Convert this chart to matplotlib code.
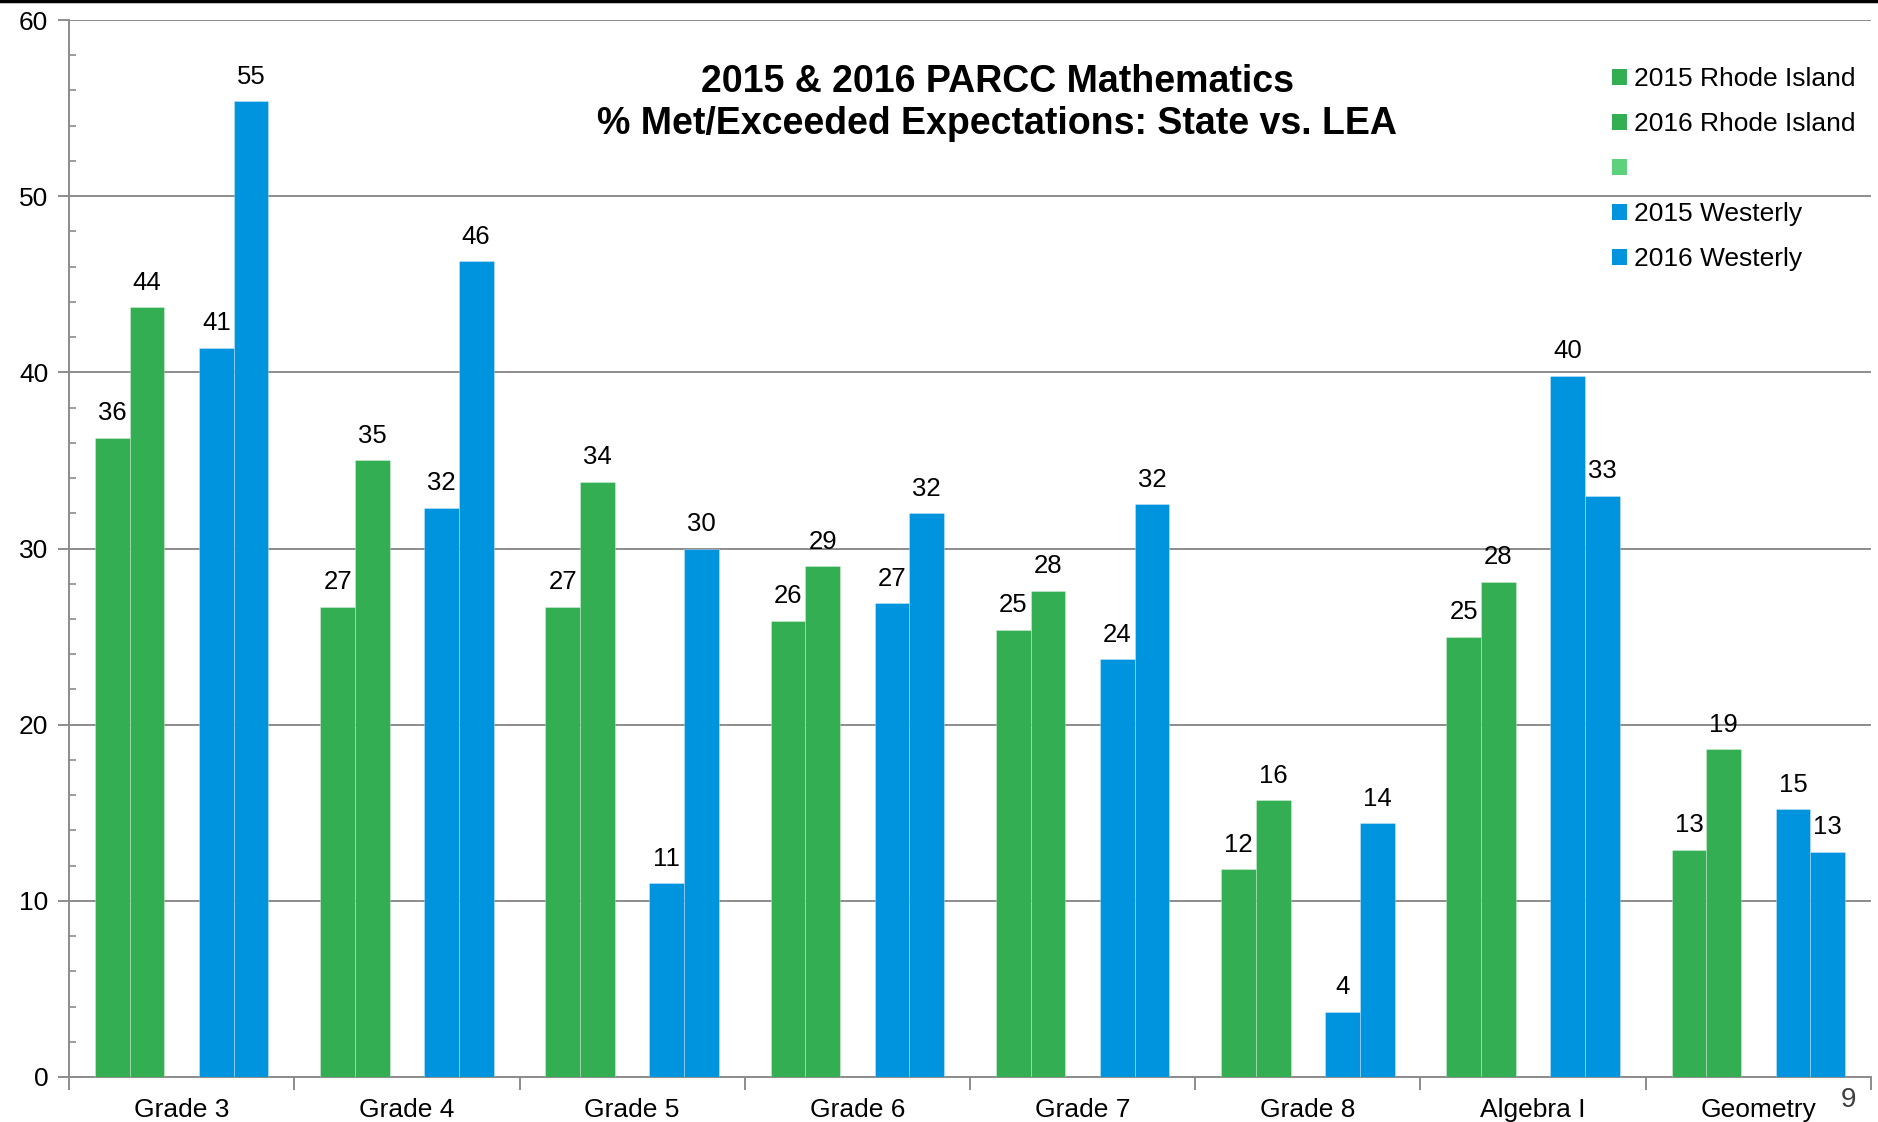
import matplotlib
matplotlib.use("Agg")
import matplotlib.pyplot as plt
import numpy as np
from matplotlib.patches import Patch

plt.rcParams['font.family'] = ['Liberation Sans', 'DejaVu Sans']

categories = ["Grade 3", "Grade 4", "Grade 5", "Grade 6", "Grade 7", "Grade 8", "Algebra I", "Geometry"]
ri_2015 = [36.3, 26.7, 26.7, 25.9, 25.4, 11.8, 25.0, 12.9]
ri_2016 = [43.7, 35.0, 33.8, 29.0, 27.6, 15.7, 28.1, 18.6]
blank_series = [np.nan] * 8
w_2015 = [41.4, 32.3, 11.0, 26.9, 23.7, 3.7, 39.8, 15.2]
w_2016 = [55.4, 46.3, 30.0, 32.0, 32.5, 14.4, 33.0, 12.8]
series_labels = ["2015 Rhode Island", "2016 Rhode Island", "", "2015 Westerly", "2016 Westerly"]
yticks = [0, 10, 20, 30, 40, 50, 60]

green = "#33AE52"
blue = "#0094DF"
light_green = "#5DD17B"
colors = [green, green, light_green, blue, blue]
series = [ri_2015, ri_2016, blank_series, w_2015, w_2016]

W, H = 1878, 1122
fig = plt.figure(figsize=(W / 100, H / 100), dpi=100)
ax = fig.add_axes([69 / W, 1 - 1077 / H, (1871 - 69) / W, (1077 - 20) / H])

n = len(categories)
x = np.arange(n)
bw = 1 / 6.5
for k, (vals, col) in enumerate(zip(series, colors)):
    off = (k - 2) * bw
    ax.bar(x + off, vals, width=bw, color=col, edgecolor=(1, 1, 1, 0.35), linewidth=0.6, zorder=3)
    for xi, v in zip(x + off, vals):
        if np.isnan(v):
            continue
        ax.annotate(f"{v:.0f}", (xi, v), xytext=(0, 9), textcoords="offset points",
                    ha="center", va="bottom", fontsize=18.5, color="black")

ax.set_xlim(-0.5, n - 0.5)
ax.set_ylim(0, 60)
ax.set_yticks(yticks)
ax.set_yticklabels([str(t) for t in yticks])
ax.set_yticks(np.arange(0, 61, 2), minor=True)
ax.yaxis.grid(True, which="major", color="#8C8C8C", linewidth=1.4, zorder=0)
ax.set_axisbelow(True)

ax.set_xticks(x)
ax.set_xticklabels(categories)
ax.set_xticks(np.arange(-0.5, n, 1.0), minor=True)

ax.tick_params(axis="x", which="major", length=0, pad=15, labelsize=19)
ax.tick_params(axis="x", which="minor", length=9, width=1.4, color="#8C8C8C", direction="out")
ax.tick_params(axis="y", which="major", length=8, width=1.4, color="#8C8C8C", direction="out", pad=7, labelsize=19)
ax.tick_params(axis="y", which="minor", length=5, width=1.2, color="#8C8C8C", direction="in")

for s in ["top", "right"]:
    ax.spines[s].set_visible(False)
for s in ["left", "bottom"]:
    ax.spines[s].set_color("#8C8C8C")
    ax.spines[s].set_linewidth(1.4)

# title
fig.text(997 / W, 1 - 103 / H, "2015 & 2016 PARCC Mathematics\n% Met/Exceeded Expectations: State vs. LEA",
         ha="center", va="center", fontsize=27, fontweight="bold", linespacing=1.2)

# legend
handles = [Patch(facecolor=c, edgecolor="none") for c in colors]
fig.legend(handles, series_labels, loc="upper left", bbox_to_anchor=(1612 / W, 1 - 67 / H),
           frameon=False, fontsize=19, handlelength=0.55, handleheight=0.55, handletextpad=0.3,
           labelspacing=0.8, borderaxespad=0, borderpad=0)

# page number
fig.text(1848 / W, 1 - 1100 / H, "9", ha="center", va="center", fontsize=20, color="#404040")

# top border line
fig.add_artist(plt.Line2D([0, 1], [1 - 1 / H, 1 - 1 / H], color="black", linewidth=2.5, transform=fig.transFigure))

fig.savefig("out.png", dpi=100)
